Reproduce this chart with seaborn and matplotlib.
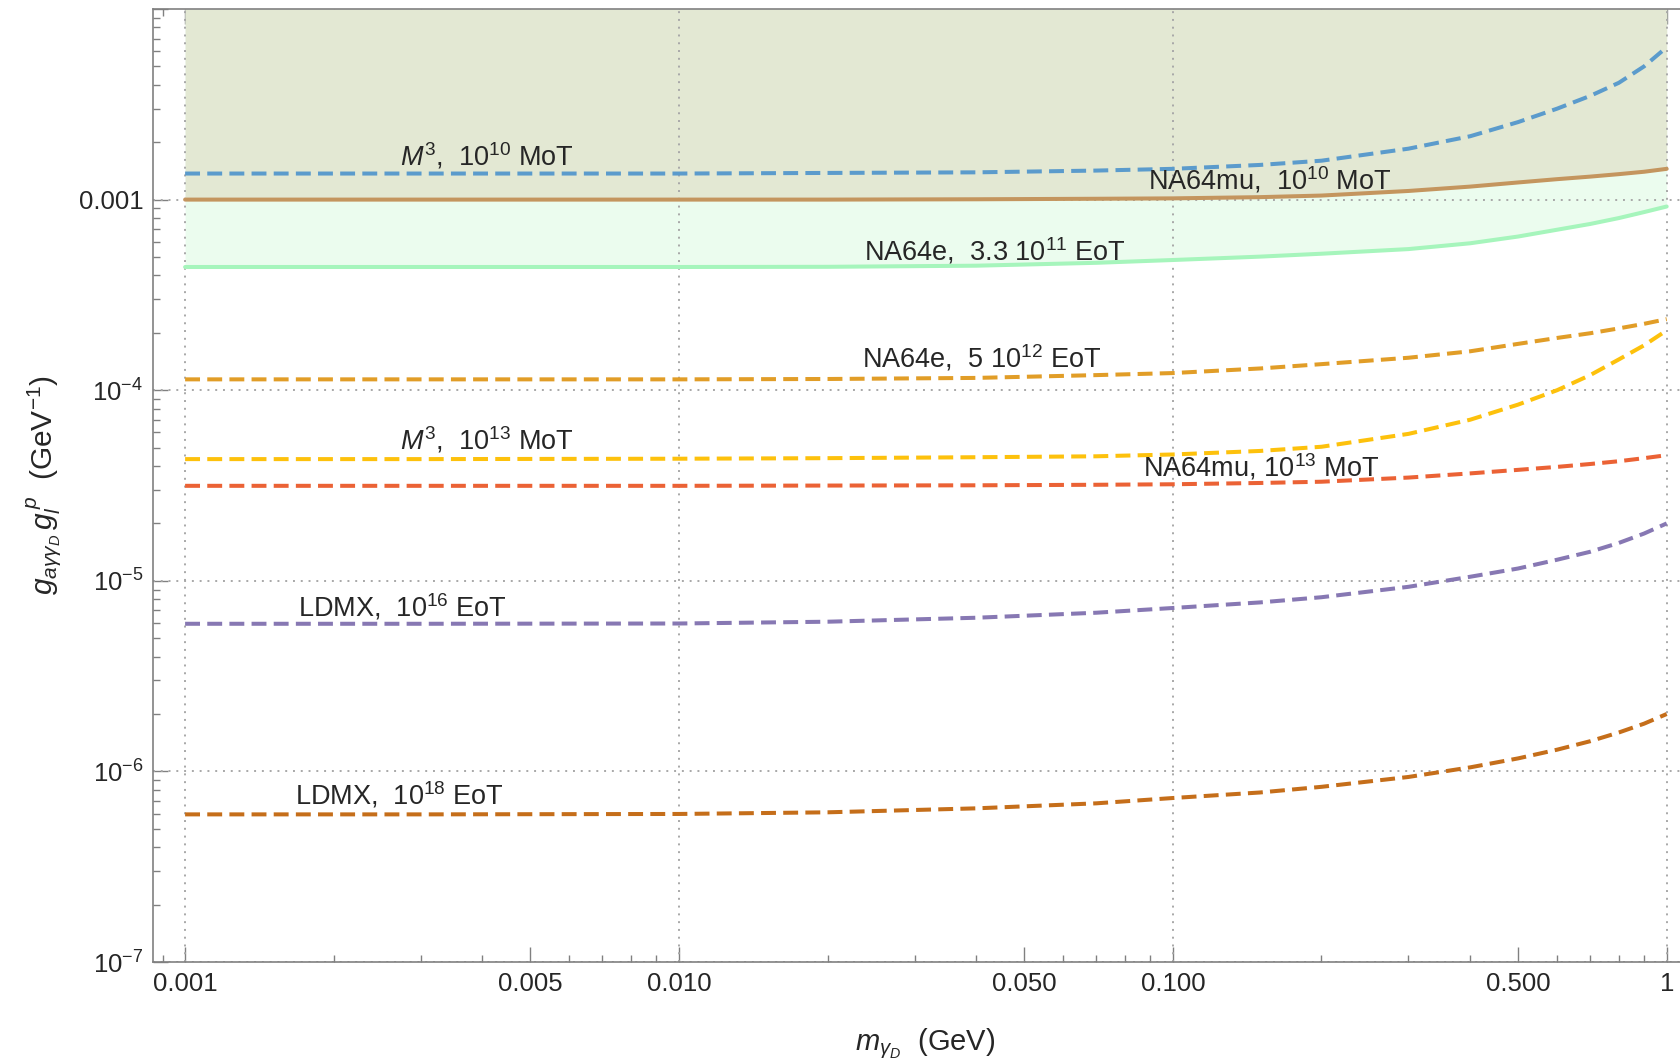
import pandas as pd
import matplotlib
matplotlib.use("Agg")
import matplotlib.pyplot as plt
import seaborn as sns
from matplotlib.ticker import FixedLocator, NullFormatter

# ---------------- data ----------------
m_gev = [0.001, 0.003, 0.01, 0.02, 0.04, 0.07, 0.1, 0.15, 0.2, 0.3,
         0.4, 0.5, 0.6, 0.7, 0.8, 0.9, 1.0]

m3_1e10 = [1.37e-3, 1.37e-3, 1.37e-3, 1.38e-3, 1.39e-3, 1.42e-3, 1.45e-3, 1.52e-3,
           1.60e-3, 1.85e-3, 2.15e-3, 2.55e-3, 3.0e-3, 3.5e-3, 4.1e-3, 5.0e-3, 6.3e-3]
na64mu_1e10 = [1.0e-3, 1.0e-3, 1.0e-3, 1.0e-3, 1.004e-3, 1.01e-3, 1.015e-3, 1.03e-3,
               1.05e-3, 1.11e-3, 1.17e-3, 1.23e-3, 1.28e-3, 1.32e-3, 1.36e-3, 1.40e-3, 1.45e-3]
na64e_33e11 = [4.43e-4, 4.43e-4, 4.43e-4, 4.44e-4, 4.5e-4, 4.66e-4, 4.82e-4, 5.02e-4,
               5.2e-4, 5.5e-4, 5.9e-4, 6.4e-4, 6.95e-4, 7.45e-4, 8.0e-4, 8.6e-4, 9.2e-4]
na64e_5e12 = [1.14e-4, 1.14e-4, 1.14e-4, 1.145e-4, 1.16e-4, 1.2e-4, 1.23e-4, 1.3e-4,
              1.37e-4, 1.48e-4, 1.6e-4, 1.75e-4, 1.88e-4, 1.99e-4, 2.11e-4, 2.23e-4, 2.36e-4]
m3_1e13 = [4.35e-5, 4.35e-5, 4.37e-5, 4.4e-5, 4.45e-5, 4.5e-5, 4.6e-5, 4.8e-5,
           5.05e-5, 5.9e-5, 7.0e-5, 8.4e-5, 1.0e-4, 1.2e-4, 1.45e-4, 1.72e-4, 2.06e-4]
na64mu_1e13 = [3.15e-5, 3.15e-5, 3.15e-5, 3.16e-5, 3.17e-5, 3.19e-5, 3.21e-5, 3.26e-5,
               3.31e-5, 3.48e-5, 3.66e-5, 3.82e-5, 3.96e-5, 4.1e-5, 4.24e-5, 4.4e-5, 4.56e-5]
ldmx_1e16 = [5.95e-6, 5.95e-6, 5.97e-6, 6.1e-6, 6.4e-6, 6.8e-6, 7.2e-6, 7.7e-6,
             8.2e-6, 9.3e-6, 1.05e-5, 1.16e-5, 1.29e-5, 1.42e-5, 1.58e-5, 1.77e-5, 2.0e-5]
ldmx_1e18 = [5.95e-7, 5.95e-7, 5.98e-7, 6.1e-7, 6.4e-7, 6.8e-7, 7.25e-7, 7.75e-7,
             8.3e-7, 9.35e-7, 1.05e-6, 1.17e-6, 1.3e-6, 1.44e-6, 1.6e-6, 1.78e-6, 2.0e-6]

curve_names = ["m3_1e10", "na64mu_1e10", "na64e_33e11", "na64e_5e12",
               "m3_1e13", "na64mu_1e13", "ldmx_1e16", "ldmx_1e18"]
curve_values = [m3_1e10, na64mu_1e10, na64e_33e11, na64e_5e12,
                m3_1e13, na64mu_1e13, ldmx_1e16, ldmx_1e18]

label_texts = [r"$M^3$,  $10^{10}$ MoT", r"NA64mu,  $10^{10}$ MoT",
               r"NA64e,  3.3 $10^{11}$ EoT", r"NA64e,  5 $10^{12}$ EoT",
               r"$M^3$,  $10^{13}$ MoT", r"NA64mu, $10^{13}$ MoT",
               r"LDMX,  $10^{16}$ EoT", r"LDMX,  $10^{18}$ EoT"]

xtick_vals = [0.001, 0.005, 0.01, 0.05, 0.1, 0.5, 1]
xtick_text = ["0.001", "0.005", "0.010", "0.050", "0.100", "0.500", "1"]
ytick_vals = [1e-7, 1e-6, 1e-5, 1e-4, 1e-3, 1e-2]
ytick_text = [r"$10^{-7}$", r"$10^{-6}$", r"$10^{-5}$", r"$10^{-4}$", "0.001", ""]

# ---------------- styles ----------------
colors = {"m3_1e10": "#5B9BCC", "na64mu_1e10": "#C4955E", "na64e_33e11": "#A6F5BC",
          "na64e_5e12": "#E19D27", "m3_1e13": "#FDC10C", "na64mu_1e13": "#EB6235",
          "ldmx_1e16": "#8778B3", "ldmx_1e18": "#C56E1A"}
dash = (3.7, 1.8)
dashes = {k: dash for k in curve_names}
dashes["na64mu_1e10"] = ""
dashes["na64e_33e11"] = ""

# label anchor (center x, baseline y) in data coords
label_pos = [(0.00408, 1.51e-3), (0.157, 1.13e-3), (0.0437, 4.81e-4), (0.041, 1.31e-4),
             (0.00408, 4.9e-5), (0.151, 3.51e-5), (0.00275, 6.47e-6), (0.00272, 6.72e-7)]

df = pd.concat([pd.DataFrame({"m": m_gev, "g": v, "curve": n})
                for n, v in zip(curve_names, curve_values)], ignore_index=True)

sns.set_style("ticks")
plt.rcParams["font.family"] = "Liberation Sans"
plt.rcParams["mathtext.fontset"] = "custom"
plt.rcParams["mathtext.rm"] = "Liberation Sans"
plt.rcParams["mathtext.it"] = "Liberation Sans:italic"
plt.rcParams["mathtext.bf"] = "Liberation Sans:bold"

fig = plt.figure(figsize=(16.81, 10.59), dpi=100)
ax = fig.add_axes([153 / 1681, 1 - 962 / 1059, 1 - 153 / 1681, (962 - 9) / 1059])

ymax = 1e-2
ax.fill_between(m_gev, na64e_33e11, ymax, color="#EBFCEE", lw=0, zorder=1)
ax.fill_between(m_gev, na64mu_1e10, ymax, color="#E3E8D3", lw=0, zorder=1.1)

sns.lineplot(data=df, x="m", y="g", hue="curve", style="curve", palette=colors,
             dashes=dashes, linewidth=2.9, legend=False, estimator=None,
             sort=True, ax=ax, zorder=3)

ax.set_xscale("log")
ax.set_yscale("log")
ax.set_xlim(8.61e-4, 1.069)
ax.set_ylim(1e-7, ymax)

grid_kw = dict(color="#A8A8A8", lw=1.4, ls=(0, (1, 3)), zorder=1.5)
for v in [0.001, 0.01, 0.1, 1]:
    ax.axvline(v, **grid_kw)
for v in [1e-7, 1e-6, 1e-5, 1e-4, 1e-3]:
    ax.axhline(v, **grid_kw)

for s, (lx, ly) in zip(label_texts, label_pos):
    ax.text(lx, ly, s, ha="center", va="baseline", fontsize=19.5, zorder=4)

ax.set_xticks(xtick_vals)
ax.set_xticklabels(xtick_text)
ax.xaxis.set_minor_locator(FixedLocator(
    [k * 10.0 ** e for e in range(-4, 0) for k in range(2, 10)]))
ax.xaxis.set_minor_formatter(NullFormatter())
ax.set_yticks(ytick_vals)
ax.set_yticklabels(ytick_text)
ax.yaxis.set_minor_locator(FixedLocator(
    [k * 10.0 ** e for e in range(-7, -2) for k in range(2, 10)]))
ax.yaxis.set_minor_formatter(NullFormatter())

spine_col = "#808080"
for side in ["left", "bottom", "top"]:
    ax.spines[side].set_color(spine_col)
    ax.spines[side].set_linewidth(1.2)
ax.spines["right"].set_visible(False)
ax.tick_params(which="both", direction="in", top=True, right=False,
               color=spine_col, labelsize=18.5, pad=7, width=1.0)
ax.tick_params(which="major", length=10.5)
ax.tick_params(which="minor", length=5)
ax.set_xlabel("")
ax.set_ylabel("")

fig.text(44 / 1681, 1 - 485 / 1059, r"$g_{a\gamma\gamma_D}\,g_l^{\,p}$  (GeV$^{-1}$)",
         rotation=90, ha="center", va="center", fontsize=21.5)
fig.text(925 / 1681, 1 - 1050 / 1059, r"$m_{\gamma_D}$  (GeV)",
         ha="center", va="baseline", fontsize=21)

fig.savefig("out.png", dpi=100)
